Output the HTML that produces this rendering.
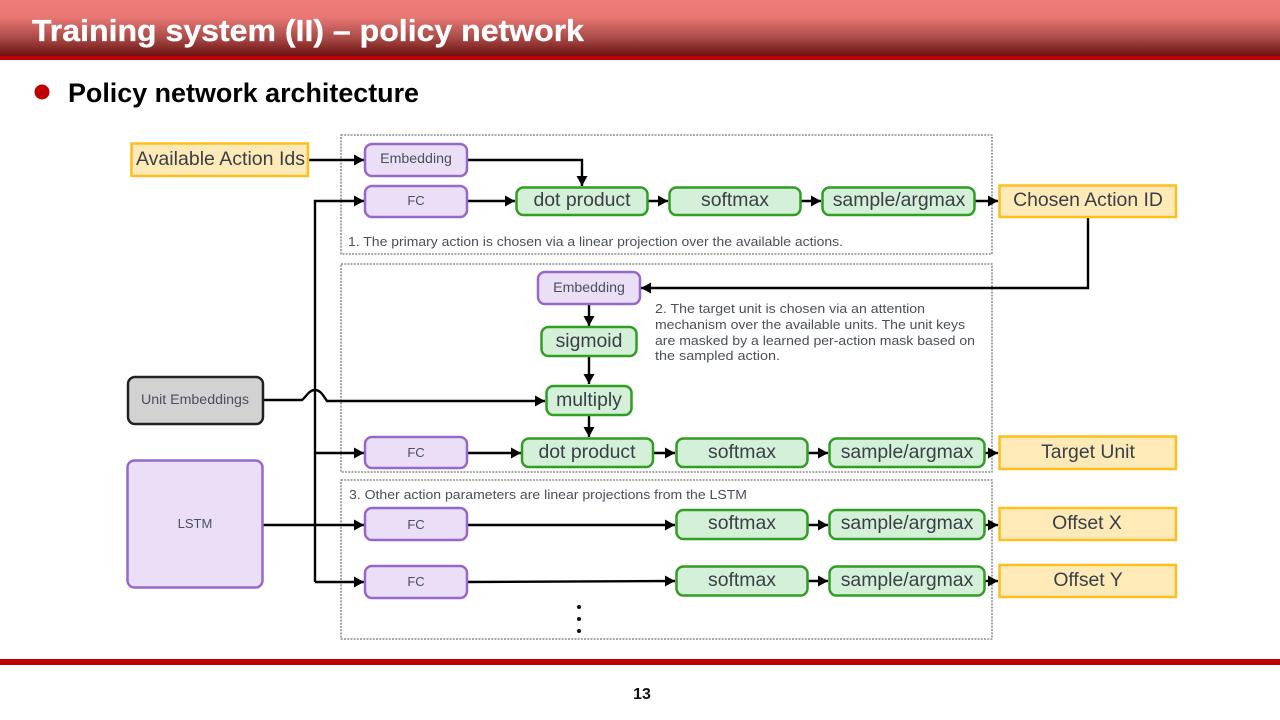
<!DOCTYPE html>
<html><head><meta charset="utf-8"><style>
html,body{margin:0;padding:0;background:#fff}
svg{display:block;width:1280px;height:720px}
text{font-family:"Liberation Sans",sans-serif}
.g{fill:#d5f0d8;stroke:#2f9e22;stroke-width:2.5}
.p{fill:#eadff6;stroke:#9568cc;stroke-width:2.5}
.y{fill:#ffeab8;stroke:#fdbf20;stroke-width:2.5}
.d{fill:none;stroke:#777;stroke-width:1.3;stroke-dasharray:2 1.2}
.l{fill:none;stroke:#000;stroke-width:2.4}
.t1{font-size:19.4px;fill:#3a3f47;text-anchor:middle}
.t2{font-size:14.2px;fill:#4a4f5c;text-anchor:middle}
.t4{font-size:13px;fill:#4a4f5c;text-anchor:middle}
.t3{font-size:13px;fill:#4a4f58}
.dg{filter:blur(0.35px)}
</style></head><body>
<svg xmlns="http://www.w3.org/2000/svg" width="1280" height="720" viewBox="0 0 1280 720">
<defs>
<linearGradient id="h" x1="0" y1="0" x2="0" y2="1">
<stop offset="0" stop-color="#ee7d78"/><stop offset=".3" stop-color="#e97874"/><stop offset=".65" stop-color="#ad4e4b"/><stop offset="1" stop-color="#6c1210"/>
</linearGradient>
<marker id="a" markerUnits="userSpaceOnUse" markerWidth="11" markerHeight="14" refX="10" refY="7" orient="auto"><path d="M0 1.500 L10 7 L0 12.500Z" fill="#000"/></marker>
</defs>
<rect x="0" y="0" width="1280" height="56" fill="url(#h)"/>
<rect x="0" y="56" width="1280" height="4" fill="#c00000"/>
<text x="32" y="41" font-size="31" font-weight="700" fill="#fff" stroke="#fff" stroke-width=".3" textLength="552" lengthAdjust="spacingAndGlyphs">Training system (II) – policy network</text>
<circle cx="42" cy="92" r="7.500" fill="#c00000"/>
<text x="68" y="102" font-size="27" font-weight="700" fill="#000" textLength="351" lengthAdjust="spacingAndGlyphs">Policy network architecture</text>

<g class="dg">
<rect class="d" x="341" y="135" width="651" height="119"/>
<rect class="d" x="341" y="264" width="651" height="208"/>
<rect class="d" x="341" y="480" width="651" height="159"/>

<!-- connectors -->
<path class="l" marker-end="url(#a)" d="M308 160H364"/>
<path class="l" marker-end="url(#a)" d="M467 160H582V186"/>
<path class="l" marker-end="url(#a)" d="M315 582V201H364"/>
<path class="l" marker-end="url(#a)" d="M467 201H515"/>
<path class="l" marker-end="url(#a)" d="M648 201H668"/>
<path class="l" marker-end="url(#a)" d="M801 201H821"/>
<path class="l" marker-end="url(#a)" d="M975 201H998"/>
<path class="l" marker-end="url(#a)" d="M1088 217V288H641"/>
<path class="l" marker-end="url(#a)" d="M589 304V326"/>
<path class="l" marker-end="url(#a)" d="M589 356V384"/>
<path class="l" marker-end="url(#a)" d="M263 400H302C306 397 309 390 315 390C321 390 324 397 327 401H545"/>
<path class="l" marker-end="url(#a)" d="M589 415V437"/>
<path class="l" marker-end="url(#a)" d="M315 453H364"/>
<path class="l" marker-end="url(#a)" d="M467 453H521"/>
<path class="l" marker-end="url(#a)" d="M653 453H675"/>
<path class="l" marker-end="url(#a)" d="M808 453H828"/>
<path class="l" marker-end="url(#a)" d="M985 453H998"/>
<path class="l" marker-end="url(#a)" d="M263 525H364"/>
<path class="l" marker-end="url(#a)" d="M467 525H675"/>
<path class="l" marker-end="url(#a)" d="M808 525H828"/>
<path class="l" marker-end="url(#a)" d="M985 525H998"/>
<path class="l" marker-end="url(#a)" d="M315 582H364"/>
<path class="l" marker-end="url(#a)" d="M467 582L675 581"/>
<path class="l" marker-end="url(#a)" d="M808 581H828"/>
<path class="l" marker-end="url(#a)" d="M985 581H998"/>

<!-- purple -->
<rect class="p" x="365" y="144" width="102" height="32" rx="7"/>
<rect class="p" x="365" y="186" width="102" height="31" rx="7"/>
<rect class="p" x="538" y="272" width="102" height="32" rx="7"/>
<rect class="p" x="365" y="437" width="102" height="31" rx="7"/>
<rect class="p" x="365" y="508" width="102" height="32" rx="7"/>
<rect class="p" x="365" y="566" width="102" height="32" rx="7"/>
<rect class="p" x="127.500" y="460.500" width="135" height="127" rx="7"/>
<rect x="128" y="377" width="135" height="47" rx="7" fill="#d2d2d2" stroke="#222" stroke-width="2.5"/>
<!-- green -->
<rect class="g" x="516.500" y="187.500" width="131" height="27.500" rx="7"/>
<rect class="g" x="669.500" y="187.500" width="131" height="27.500" rx="7"/>
<rect class="g" x="822.500" y="187.500" width="152" height="27.500" rx="7"/>
<rect class="g" x="541.500" y="327" width="95" height="29" rx="7"/>
<rect class="g" x="546.500" y="386" width="85" height="29" rx="7"/>
<rect class="g" x="522" y="438.500" width="131" height="28.500" rx="7"/>
<rect class="g" x="676.500" y="438.500" width="131" height="28.500" rx="7"/>
<rect class="g" x="829.500" y="438.500" width="155" height="28.500" rx="7"/>
<rect class="g" x="676.500" y="510" width="131" height="29" rx="7"/>
<rect class="g" x="829.500" y="510" width="155" height="29" rx="7"/>
<rect class="g" x="676.500" y="566.500" width="131" height="29" rx="7"/>
<rect class="g" x="829.500" y="566.500" width="155" height="29" rx="7"/>
<!-- yellow -->
<rect class="y" x="131.500" y="143.500" width="176.500" height="32.500"/>
<rect class="y" x="999.500" y="185.500" width="176.500" height="31.500"/>
<rect class="y" x="999.500" y="436.500" width="176.500" height="32.500"/>
<rect class="y" x="999.500" y="508" width="176.500" height="32"/>
<rect class="y" x="999.500" y="565" width="176.500" height="32"/>

<!-- labels -->
<text class="t1" x="220.500" y="165" textLength="169" lengthAdjust="spacingAndGlyphs">Available Action Ids</text>
<text class="t2" x="416" y="163">Embedding</text>
<text class="t4" x="416" y="205">FC</text>
<text class="t1" x="582" y="206">dot product</text>
<text class="t1" x="735" y="206">softmax</text>
<text class="t1" x="899" y="206">sample/argmax</text>
<text class="t1" x="1088" y="206">Chosen Action ID</text>
<text class="t3" x="348" y="246" textLength="495" lengthAdjust="spacingAndGlyphs">1. The primary action is chosen via a linear projection over the available actions.</text>
<text class="t2" x="589" y="292">Embedding</text>
<text class="t1" x="589" y="347">sigmoid</text>
<text class="t1" x="589" y="406">multiply</text>
<text class="t3" x="655" y="313" textLength="270" lengthAdjust="spacingAndGlyphs">2. The target unit is chosen via an attention</text>
<text class="t3" x="655" y="329" textLength="310" lengthAdjust="spacingAndGlyphs">mechanism over the available units. The unit keys</text>
<text class="t3" x="655" y="345" textLength="320" lengthAdjust="spacingAndGlyphs">are masked by a learned per-action mask based on</text>
<text class="t3" x="655" y="360" textLength="125" lengthAdjust="spacingAndGlyphs">the sampled action.</text>
<text class="t2" x="195" y="404">Unit Embeddings</text>
<text class="t4" x="195" y="528">LSTM</text>
<text class="t4" x="416" y="457">FC</text>
<text class="t1" x="587" y="458">dot product</text>
<text class="t1" x="742" y="458">softmax</text>
<text class="t1" x="907" y="458">sample/argmax</text>
<text class="t1" x="1088" y="458">Target Unit</text>
<text class="t3" x="349" y="499" textLength="398" lengthAdjust="spacingAndGlyphs">3. Other action parameters are linear projections from the LSTM</text>
<text class="t4" x="416" y="529">FC</text>
<text class="t1" x="742" y="529">softmax</text>
<text class="t1" x="907" y="529">sample/argmax</text>
<text class="t1" x="1087" y="529">Offset X</text>
<text class="t4" x="416" y="586">FC</text>
<text class="t1" x="742" y="586">softmax</text>
<text class="t1" x="907" y="586">sample/argmax</text>
<text class="t1" x="1088" y="586">Offset Y</text>
<circle cx="579" cy="607" r="2" fill="#111"/>
<circle cx="579" cy="619" r="2" fill="#111"/>
<circle cx="579" cy="631" r="2" fill="#111"/>
</g>

<rect x="0" y="659" width="1280" height="6" fill="#c00000"/>
<text x="642" y="699" font-size="16" font-weight="700" fill="#111" text-anchor="middle">13</text>
</svg>
</body></html>
